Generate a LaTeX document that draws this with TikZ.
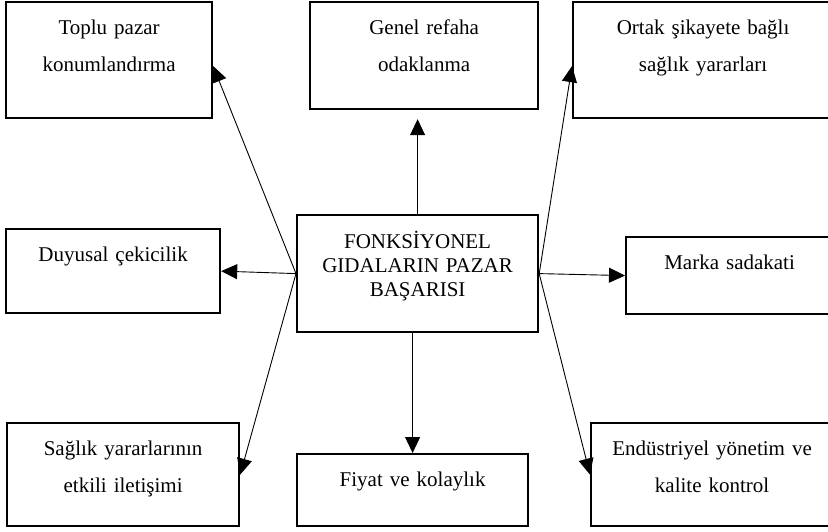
\documentclass[tikz,border=0pt]{standalone}
\usepackage{fontspec}
\setmainfont{Liberation Serif}
\usetikzlibrary{arrows.meta}

\begin{document}
\begin{tikzpicture}[
    x=1pt, y=-1pt,
    box/.style={rectangle, draw=black, line width=2.2pt, inner sep=0pt,
                anchor=north west, align=center, text height=32pt,
                font=\fontsize{21}{37}\selectfont},
    arr/.style={-{Triangle[length=16pt,width=15pt]}, line width=0.9pt}
]
\useasboundingbox (0,0) rectangle (828,531);
\node[box, text width=206pt, text depth=84pt] (A) at (5,1) {Toplu pazar\\konumlandırma};
\node[box, text width=228pt, text depth=75pt] (B) at (309,1) {Genel refaha\\odaklanma};
\node[box, text width=260pt, text depth=84pt] (C) at (572,1) {Ortak şikayete bağlı\\sağlık yararları};
\node[box, text width=214pt, text depth=52pt] (D) at (5,228) {Duyusal çekicilik};
\node[box, text width=241pt, text height=33pt, text depth=84pt,
      font=\fontsize{21}{24}\selectfont] (M) at (296,214) {FONKSİYONEL\\GIDALARIN PAZAR\\BAŞARISI};
\node[box, text width=207pt, text depth=45pt] (E) at (625,236) {Marka sadakati};
\node[box, text width=232pt, text depth=71pt] (F) at (6,422) {Sağlık yararlarının\\etkili iletişimi};
\node[box, text width=231pt, text depth=40pt] (G) at (296,453) {Fiyat ve kolaylık};
\node[box, text width=242pt, text depth=71pt] (H) at (590,422) {Endüstriyel yönetim ve\\kalite kontrol};

\draw[arr] (M.north) -- ([yshift=-9pt]B.south -| M.north);
\draw[arr] (M.west) -- ([yshift=-6pt]A.east);
\draw[arr] (M.east) -- ([yshift=-6pt]C.west);
\draw[arr] (M.west) -- (D.east);
\draw[arr] (M.east) -- (E.west);
\draw[arr] (M.west) -- (F.east);
\draw[arr] (M.south -| G.north) -- (G.north);
\draw[arr] (M.east) -- (H.west);
\end{tikzpicture}
\end{document}
